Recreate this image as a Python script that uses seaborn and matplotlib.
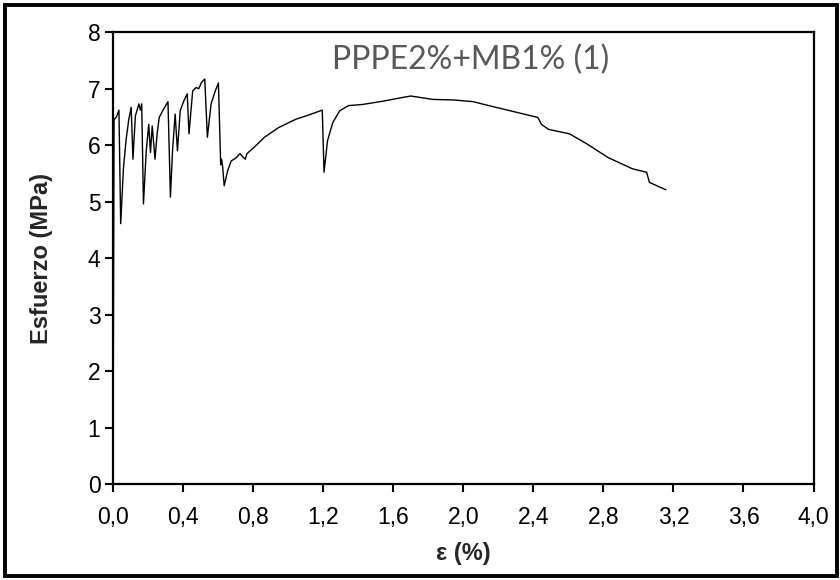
import matplotlib
matplotlib.use("Agg")
import matplotlib.pyplot as plt
from matplotlib.patches import Rectangle
import seaborn as sns
import pandas as pd

# Tensile test curve: strain (%) vs stress (MPa)
strain = [0.000, 0.006, 0.008, 0.020, 0.034, 0.044, 0.060, 0.075, 0.090, 0.104,
          0.114, 0.128, 0.148, 0.156, 0.164, 0.174, 0.190, 0.204, 0.214, 0.224,
          0.240, 0.252, 0.264, 0.284, 0.314, 0.328, 0.340, 0.355, 0.368, 0.384,
          0.404, 0.424, 0.434, 0.455, 0.474, 0.490, 0.505, 0.524, 0.539, 0.560,
          0.584, 0.602, 0.615, 0.620, 0.626, 0.635, 0.655, 0.675, 0.705, 0.725,
          0.740, 0.755, 0.765, 0.805, 0.865, 0.945, 1.045, 1.105, 1.195, 1.205,
          1.225, 1.255, 1.295, 1.345, 1.425, 1.545, 1.646, 1.700, 1.826, 1.946,
          2.056, 2.146, 2.266, 2.426, 2.446, 2.486, 2.607, 2.707, 2.827, 2.967,
          3.047, 3.063, 3.157]
stress = [0.00, 6.45, 6.46, 6.50, 6.62, 4.61, 5.60, 6.10, 6.45, 6.67,
          5.75, 6.52, 6.73, 6.62, 6.73, 4.96, 5.90, 6.37, 5.87, 6.34,
          5.75, 6.20, 6.49, 6.61, 6.77, 5.08, 5.90, 6.55, 5.90, 6.61,
          6.78, 6.91, 6.20, 6.96, 7.02, 7.00, 7.11, 7.17, 6.14, 6.73,
          6.96, 7.10, 5.65, 5.75, 5.62, 5.28, 5.55, 5.72, 5.78, 5.85,
          5.80, 5.75, 5.85, 5.96, 6.14, 6.31, 6.46, 6.52, 6.62, 5.52,
          6.08, 6.40, 6.61, 6.70, 6.72, 6.78, 6.84, 6.87, 6.81, 6.80,
          6.77, 6.70, 6.61, 6.49, 6.37, 6.28, 6.20, 6.02, 5.78, 5.58,
          5.52, 5.34, 5.21]

x_ticks = [0.0, 0.4, 0.8, 1.2, 1.6, 2.0, 2.4, 2.8, 3.2, 3.6, 4.0]
x_tick_labels = ["0,0", "0,4", "0,8", "1,2", "1,6", "2,0", "2,4", "2,8", "3,2", "3,6", "4,0"]
y_ticks = [0, 1, 2, 3, 4, 5, 6, 7, 8]
sample_name = "PPPE2%+MB1% (1)"

sns.set_style("white")
plt.rcParams["font.family"] = ["Liberation Sans", "DejaVu Sans"]
arial_like = ["Liberation Sans", "DejaVu Sans"]

df = pd.DataFrame({"strain": strain, "stress": stress})

fig = plt.figure(figsize=(8.4, 5.8), dpi=100)
ax = fig.add_axes([0.1345, 0.1655, 0.834, 0.779])

sns.lineplot(data=df, x="strain", y="stress", sort=False, estimator=None,
             color="black", linewidth=1.0, ax=ax)

ax.set_xlim(0, 4.0)
ax.set_ylim(0, 8)
ax.set_xticks(x_ticks)
ax.set_xticklabels(x_tick_labels, family=arial_like)
ax.set_yticks(y_ticks)
ax.set_yticklabels([str(v) for v in y_ticks], family=arial_like)
ax.tick_params(axis="both", which="major", direction="out", length=6,
               width=1.5, labelsize=16.5, colors="black",
               bottom=True, left=True, top=False, right=False)
ax.tick_params(axis="x", pad=10)
ax.tick_params(axis="y", pad=3)

for side in ["left", "bottom", "top", "right"]:
    ax.spines[side].set_visible(True)
    ax.spines[side].set_color("black")
    ax.spines[side].set_linewidth(1.6)

ax.set_xlabel("ε (%)", fontsize=17, fontweight="bold", labelpad=9, family=arial_like)
ax.set_ylabel("Esfuerzo (MPa)", fontsize=17, fontweight="bold", labelpad=25,
              family=arial_like)

ax.text(2.04, 7.5, sample_name, fontsize=23, color="#595959",
        ha="center", va="center", family=["Lato", "DejaVu Sans"])

# Border around the whole figure
fig.patches.append(Rectangle((0.006, 0.007), 0.99, 0.985, transform=fig.transFigure,
                             fill=False, edgecolor="black", linewidth=2.8))

fig.savefig("out.png", dpi=100)
